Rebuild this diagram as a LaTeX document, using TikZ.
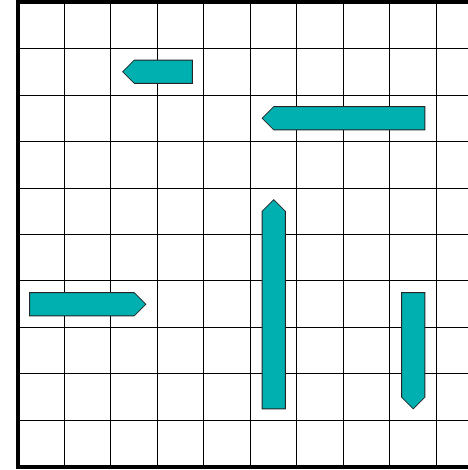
\documentclass[tikz,border=0pt]{standalone}
\usepackage{tikz}
\usetikzlibrary{positioning}
\usepackage{xcolor}
\definecolor{arrowteal}{HTML}{00B0B0}

\tikzset{
  gridline/.style={black, line width=0.6pt},
  frameline/.style={black, line width=2.8pt},
  blockarrow/.style={fill=arrowteal, draw=black!85, line width=0.5pt, line join=miter}
}

\begin{document}
\begin{tikzpicture}
  \useasboundingbox (-0.387,-0.065) rectangle (9.677,10.043);
  % board
  \draw[gridline] (0,0) grid (9.75,10);
  \draw[frameline] (9.75,10) -- (0,10) -- (0,0) -- (9.75,0);
  % pointing left
  \draw[blockarrow] (2.25,8.5) -- (2.5,8.75) -- (3.75,8.75) -- (3.75,8.25) -- (2.5,8.25) -- cycle;
  \draw[blockarrow] (5.25,7.5) -- (5.5,7.75) -- (8.75,7.75) -- (8.75,7.25) -- (5.5,7.25) -- cycle;
  % pointing right
  \draw[blockarrow] (0.25,3.25) -- (0.25,3.75) -- (2.5,3.75) -- (2.75,3.5) -- (2.5,3.25) -- cycle;
  % pointing up
  \draw[blockarrow] (5.25,1.25) -- (5.25,5.5) -- (5.5,5.75) -- (5.75,5.5) -- (5.75,1.25) -- cycle;
  % pointing down
  \draw[blockarrow] (8.25,3.75) -- (8.25,1.5) -- (8.5,1.25) -- (8.75,1.5) -- (8.75,3.75) -- cycle;
\end{tikzpicture}
\end{document}
